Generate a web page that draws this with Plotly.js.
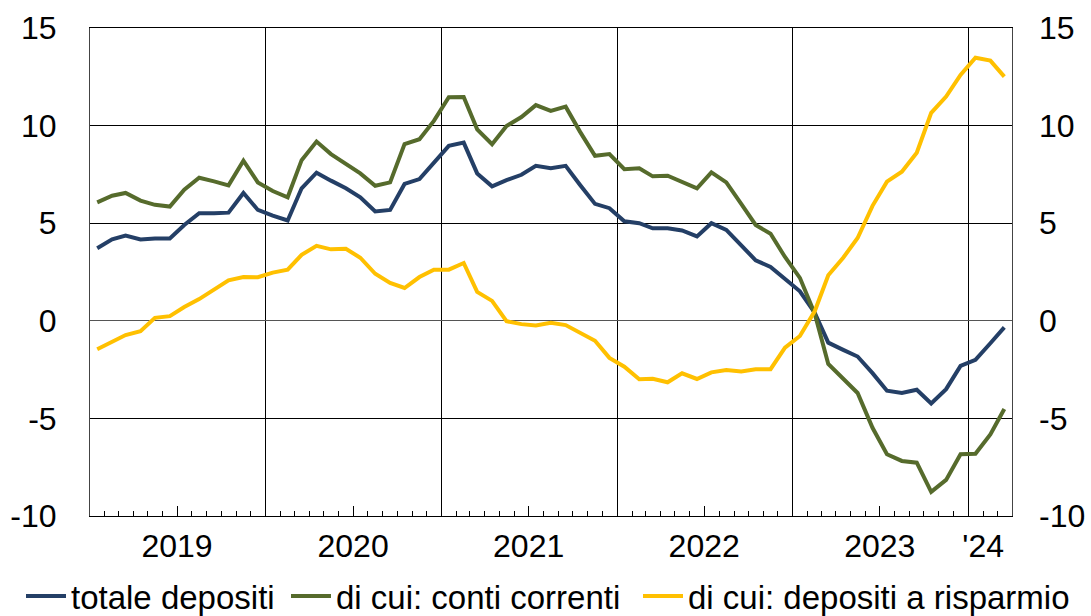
<!DOCTYPE html>
<html>
<head>
<meta charset="utf-8">
<script src="https://cdn.plot.ly/plotly-3.0.1.min.js"></script>
<style>html,body{margin:0;padding:0;background:#fff}#chart{width:1091px;height:616px}</style>
</head>
<body>
<div id="chart"></div>
<script>
// monthly series, Jan 2019 - Mar 2024
const startYear = 2019, startMonth = 1;
const seriesNames = ["totale depositi", "di cui: conti correnti", "di cui: depositi a risparmio"];
const totaleDepositi = [
  3.72, 4.17, 4.37, 4.17, 4.22, 4.22, 4.91, 5.51, 5.51, 5.54, 6.55, 5.68,
  5.39, 5.14, 6.79, 7.59, 7.18, 6.79, 6.33, 5.60, 5.68, 7.01, 7.26, 8.11,
  8.96, 9.13, 7.55, 6.89, 7.21, 7.48, 7.94, 7.82, 7.94, 6.96, 5.99, 5.77,
  5.10, 5.00, 4.74, 4.74, 4.63, 4.32, 5.00, 4.66, 3.89, 3.10, 2.76, 2.16,
  1.51, 0.40, -1.12, -1.49, -1.83, -2.68, -3.58, -3.70, -3.53, -4.24, -3.50, -2.31,
  -2.00, -1.15, -0.34
];
const contiCorrenti = [
  6.07, 6.41, 6.55, 6.16, 5.94, 5.85, 6.72, 7.33, 7.14, 6.94, 8.20, 7.09,
  6.65, 6.33, 8.23, 9.18, 8.54, 8.03, 7.55, 6.92, 7.09, 9.05, 9.30, 10.24,
  11.45, 11.46, 9.81, 9.05, 9.98, 10.44, 11.05, 10.75, 10.97, 9.68, 8.45, 8.54,
  7.77, 7.81, 7.40, 7.43, 7.09, 6.79, 7.60, 7.09, 5.99, 4.91, 4.46, 3.27,
  2.20, 0.35, -2.21, -2.94, -3.70, -5.48, -6.84, -7.18, -7.27, -8.76, -8.15, -6.84,
  -6.81, -5.82, -4.52
];
const depositiRisparmio = [
  -1.46, -1.07, -0.73, -0.53, 0.15, 0.24, 0.71, 1.11, 1.60, 2.07, 2.24, 2.23,
  2.47, 2.62, 3.38, 3.84, 3.66, 3.69, 3.23, 2.41, 1.94, 1.68, 2.24, 2.62,
  2.62, 2.96, 1.48, 1.02, -0.02, -0.17, -0.24, -0.10, -0.22, -0.60, -1.02, -1.90,
  -2.35, -2.99, -2.97, -3.15, -2.69, -2.98, -2.64, -2.52, -2.60, -2.48, -2.48, -1.38,
  -0.78, 0.50, 2.33, 3.23, 4.24, 5.89, 7.13, 7.64, 8.61, 10.65, 11.49, 12.60,
  13.48, 13.33, 12.51
];
const yearLabels = ["2019", "2020", "2021", "2022", "2023", "'24"];
const yearLabelPos = ["2019-07-01", "2020-07-01", "2021-07-01", "2022-07-01", "2023-07-01", "2024-02-01"];
const yearBounds = ["2020-01-01", "2021-01-01", "2022-01-01", "2023-01-01", "2024-01-01"];
const midYearTicks = ["2019-07-01", "2020-07-01", "2021-07-01", "2022-07-01", "2023-07-01"];
const yTickVals = [-10, -5, 0, 5, 10, 15];
const yTickText = ["-10", "-5", "0", "5", "10", "15"];

function monthDates(n) {
  const out = [];
  for (let i = 0; i < n; i++) {
    const m0 = startMonth - 1 + i;
    const y = startYear + Math.floor(m0 / 12);
    const m = (m0 % 12) + 1;
    out.push(y + "-" + String(m).padStart(2, "0") + "-16");
  }
  return out;
}
const dates = monthDates(totaleDepositi.length);
const colors = ["#243f66", "#566b2c", "#ffc000"];
const values = [totaleDepositi, contiCorrenti, depositiRisparmio];
const legendIds = ["legend", "legend2", "legend3"];

const traces = values.map((v, i) => ({
  type: "scatter", mode: "lines", x: dates, y: v, name: seriesNames[i],
  line: {color: colors[i], width: 4}, xaxis: "x", yaxis: "y", legend: legendIds[i]
}));
traces.push({type: "scatter", x: [dates[0]], y: [null], xaxis: "x2", yaxis: "y2", showlegend: false, hoverinfo: "skip"});

const font = {family: "Liberation Sans, Arial, sans-serif", size: 32, color: "#000"};
const legendFont = {family: font.family, size: 33, color: "#000"};
function legendAt(xpx) {
  return {orientation: "h", xref: "container", yref: "container", x: xpx / 1091, xanchor: "left",
          y: 20 / 616, yanchor: "middle", font: legendFont, itemwidth: 40,
          bgcolor: "rgba(0,0,0,0)", borderwidth: 0};
}
const xRange = ["2019-01-01", "2024-04-01"];
const layout = {
  width: 1091, height: 616,
  margin: {l: 90, r: 79, t: 28, b: 100, autoexpand: false},
  paper_bgcolor: "#fff", plot_bgcolor: "#fff",
  font: font,
  showlegend: true,
  legend: legendAt(21),
  legend2: legendAt(286),
  legend3: legendAt(638),
  xaxis: {
    type: "date", range: xRange, tickmode: "array", tickvals: yearLabelPos, ticktext: yearLabels,
    ticks: "", showgrid: false, showline: true, linecolor: "#000", linewidth: 1, mirror: true,
    ticklabelstandoff: 2, tickfont: font,
    minor: {tickmode: "array", tickvals: yearBounds, showgrid: true, gridcolor: "#000", gridwidth: 1, ticks: ""},
    zeroline: false
  },
  xaxis2: {
    type: "date", range: xRange, overlaying: "x", anchor: "y", side: "bottom",
    tickmode: "array", tickvals: midYearTicks, ticks: "inside", ticklen: 10, tickcolor: "#000", tickwidth: 1,
    showticklabels: false, showgrid: false, showline: false,
    minor: {tickmode: "linear", tick0: "2019-01-01", dtick: "M1", ticks: "inside", ticklen: 5, tickcolor: "#000", tickwidth: 1, showgrid: false}
  },
  yaxis: {
    range: [-10, 15], tickmode: "array", tickvals: yTickVals, ticktext: yTickText,
    showgrid: true, gridcolor: "#000", gridwidth: 1, zeroline: true, zerolinecolor: "#555", zerolinewidth: 1,
    showline: true, linecolor: "#444", linewidth: 1, mirror: true, ticks: "",
    ticklabelstandoff: 26, tickfont: font
  },
  yaxis2: {
    range: [-10, 15], overlaying: "y", side: "right", anchor: "x", tickmode: "array",
    tickvals: yTickVals, ticktext: yTickText, showgrid: false, zeroline: false, showline: false,
    ticks: "", ticklabelstandoff: 26, tickfont: font
  }
};
Plotly.newPlot("chart", traces, layout, {displayModeBar: false, staticPlot: true});
</script>
</body>
</html>
